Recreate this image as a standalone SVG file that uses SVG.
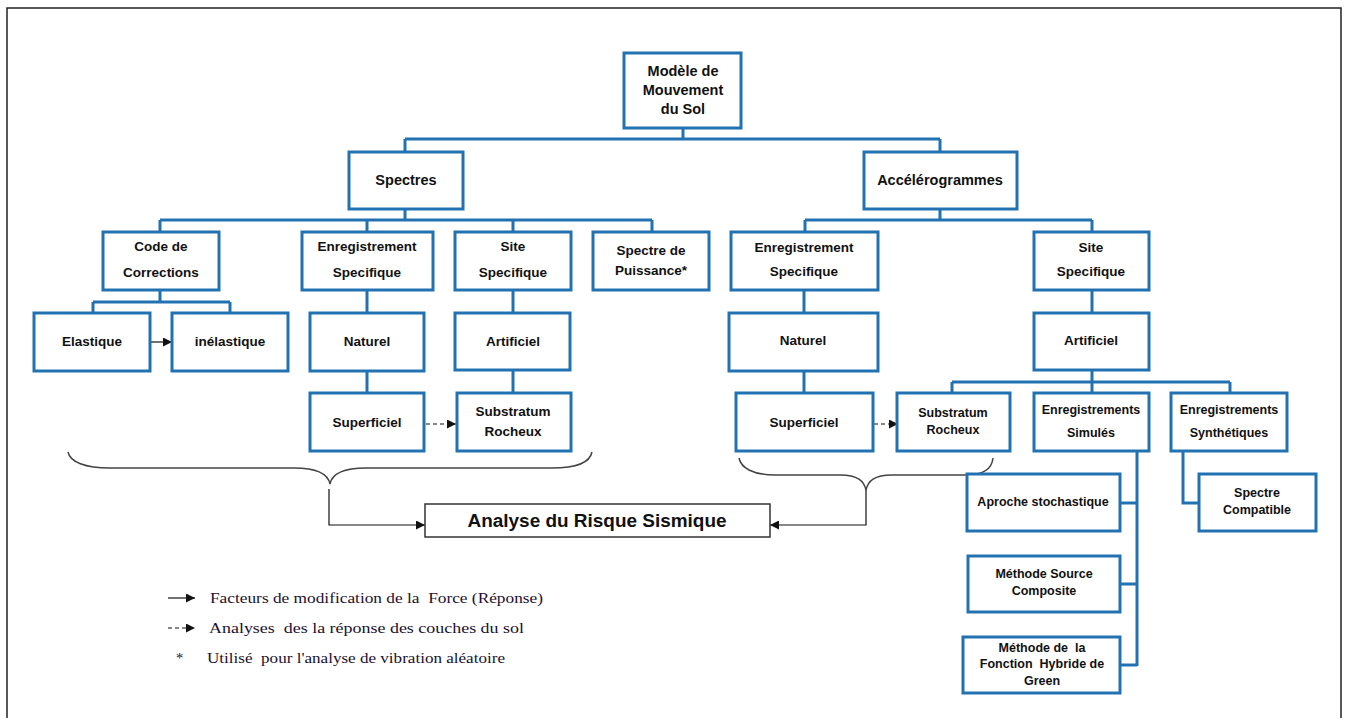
<svg xmlns="http://www.w3.org/2000/svg" width="1347" height="718" viewBox="0 0 1347 718">
<defs>
<style>
.box{fill:#fff;stroke:#2272B1;stroke-width:3}
.conn{fill:none;stroke:#2272B1;stroke-width:3}
.t{font-family:"Liberation Sans",Arial,sans-serif;font-weight:bold;font-size:13.5px;fill:#111;text-anchor:middle;white-space:pre}
.s12{font-size:12.5px}
.s14{font-size:14.5px}
.blk{fill:none;stroke:#111;stroke-width:1.2}
.brace{fill:none;stroke:#444;stroke-width:1.5}
.leg{font-family:"Liberation Serif","Times New Roman",serif;font-size:14.5px;fill:#1a1030;white-space:pre}
</style>
<marker id="ah" viewBox="0 0 10 10" refX="10" refY="5" markerWidth="9" markerHeight="9" markerUnits="userSpaceOnUse" orient="auto">
<path d="M0,0 L10,5 L0,10 z" fill="#111"/>
</marker>
</defs>
<rect width="1347" height="718" fill="#fff"/>
<path d="M7,718 V8 H1341 V718" fill="none" stroke="#222" stroke-width="1.5"/>

<g id="connectors">
<path class="conn" d="M683,128 V139 M405,139 H940 M405,139 V152 M940,139 V152"/>
<path class="conn" d="M405,209 V220 M160,220 H652 M160,220 V232 M367,220 V232 M513,220 V232 M652,220 V232"/>
<path class="conn" d="M940,209 V220 M805,220 H1092 M805,220 V232 M1092,220 V232"/>
<path class="conn" d="M160,290 V302 M93,302 H230 M93,302 V313 M230,302 V313"/>
<path class="conn" d="M367,290 V313 M367,371 V393 M513,290 V313 M513,370 V393"/>
<path class="conn" d="M804,290 V313 M804,371 V393"/>
<path class="conn" d="M1092,290 V313 M1092,370 V382 M952,382 H1230 M952,382 V393 M1092,382 V393 M1230,382 V393"/>
<path class="conn" d="M1137,451 V666 M1120,503 H1137 M1120,584 H1137 M1120,665 H1137"/>
<path class="conn" d="M1183,451 V503 H1199"/>
<line class="blk" x1="148" y1="342" x2="172" y2="342" marker-end="url(#ah)"/>
<line class="blk" x1="426" y1="424" x2="456" y2="424" stroke-dasharray="4,3" marker-end="url(#ah)"/>
<line class="blk" x1="874" y1="424" x2="898" y2="424" stroke-dasharray="4,3" marker-end="url(#ah)"/>
<path class="brace" d="M68,452 C70,462 85,468 110,468 H294 C318,468 328,474 330,484 C332,474 342,468 366,468 H552 C578,468 590,462 592,452"/>
<path class="brace" d="M739,458 C741,468 753,475 775,475 H840 C858,475 864,481 866,490 C868,481 874,475 892,475 H966 C985,475 992,468 993,458"/>
<path class="blk" d="M329,489 V525 H425" marker-end="url(#ah)"/>
<path class="blk" d="M866,490 V525 H770" marker-end="url(#ah)"/>
</g>

<g id="n-modele"><rect class="box" x="624" y="53" width="117" height="75"/><text class="t s14" x="683" y="76">Modèle de</text><text class="t s14" x="683" y="95">Mouvement</text><text class="t s14" x="683" y="114">du Sol</text></g>
<g id="n-spectres"><rect class="box" x="349" y="152" width="114" height="57"/><text class="t s14" x="406" y="185">Spectres</text></g>
<g id="n-accel"><rect class="box" x="864" y="152" width="153" height="57"/><text class="t s14" x="940" y="185">Accélérogrammes</text></g>

<g id="n-code"><rect class="box" x="103" y="232" width="116" height="58"/><text class="t" x="161" y="251">Code de</text><text class="t" x="161" y="277">Corrections</text></g>
<g id="n-enr-l"><rect class="box" x="302" y="232" width="131" height="58"/><text class="t" x="367" y="251">Enregistrement</text><text class="t" x="367" y="277">Specifique</text></g>
<g id="n-site-l"><rect class="box" x="455" y="232" width="116" height="58"/><text class="t" x="513" y="251">Site</text><text class="t" x="513" y="277">Specifique</text></g>
<g id="n-puiss"><rect class="box" x="593" y="232" width="116" height="58"/><text class="t" x="651" y="255">Spectre de</text><text class="t" x="651" y="275">Puissance*</text></g>
<g id="n-enr-r"><rect class="box" x="731" y="232" width="147" height="58"/><text class="t" x="804" y="252">Enregistrement</text><text class="t" x="804" y="276">Specifique</text></g>
<g id="n-site-r"><rect class="box" x="1034" y="232" width="115" height="58"/><text class="t" x="1091" y="252">Site</text><text class="t" x="1091" y="276">Specifique</text></g>

<g id="n-elast"><rect class="box" x="34" y="313" width="116" height="58"/><text class="t" x="92" y="346">Elastique</text></g>
<g id="n-inelast"><rect class="box" x="172" y="313" width="116" height="58"/><text class="t" x="230" y="346">inélastique</text></g>
<g id="n-nat-l"><rect class="box" x="310" y="313" width="114" height="58"/><text class="t" x="367" y="346">Naturel</text></g>
<g id="n-art-l"><rect class="box" x="455" y="313" width="115" height="57"/><text class="t" x="513" y="346">Artificiel</text></g>
<g id="n-nat-r"><rect class="box" x="729" y="313" width="149" height="58"/><text class="t" x="803" y="345">Naturel</text></g>
<g id="n-art-r"><rect class="box" x="1034" y="313" width="115" height="57"/><text class="t" x="1091" y="345">Artificiel</text></g>

<g id="n-sup-l"><rect class="box" x="310" y="393" width="114" height="58"/><text class="t" x="367" y="427">Superficiel</text></g>
<g id="n-sub-l"><rect class="box" x="457" y="393" width="114" height="58"/><text class="t" x="513" y="416">Substratum</text><text class="t" x="513" y="436">Rocheux</text></g>
<g id="n-sup-r"><rect class="box" x="736" y="393" width="137" height="58"/><text class="t" x="804" y="427">Superficiel</text></g>
<g id="n-sub-r"><rect class="box" x="897" y="393" width="113" height="58"/><text class="t s12" x="953" y="417">Substratum</text><text class="t s12" x="953" y="434">Rocheux</text></g>
<g id="n-simul"><rect class="box" x="1034" y="393" width="115" height="58"/><text class="t s12" x="1091" y="414">Enregistrements</text><text class="t s12" x="1091" y="437">Simulés</text></g>
<g id="n-synth"><rect class="box" x="1171" y="393" width="116" height="58"/><text class="t s12" x="1229" y="414">Enregistrements</text><text class="t s12" x="1229" y="437">Synthétiques</text></g>

<g id="n-aproche"><rect class="box" x="967" y="474" width="153" height="57"/><text class="t s12" x="1043" y="506">Aproche stochastique</text></g>
<g id="n-msc"><rect class="box" x="968" y="556" width="152" height="56"/><text class="t s12" x="1044" y="578">Méthode Source</text><text class="t s12" x="1044" y="595">Composite</text></g>
<g id="n-mfhg"><rect class="box" x="963" y="637" width="157" height="56"/><text class="t s12" x="1042" y="652">Méthode de  la</text><text class="t s12" x="1042" y="668">Fonction  Hybride de</text><text class="t s12" x="1042" y="685">Green</text></g>
<g id="n-spc"><rect class="box" x="1199" y="474" width="117" height="57"/><text class="t s12" x="1257" y="497">Spectre</text><text class="t s12" x="1257" y="514">Compatible</text></g>

<g id="n-analyse"><rect x="425" y="504" width="345" height="33" fill="#fff" stroke="#333" stroke-width="1.5"/><text class="t" style="font-size:18px" x="597" y="527" textLength="259" lengthAdjust="spacingAndGlyphs">Analyse du Risque Sismique</text></g>

<g id="legend">
<line class="blk" x1="168" y1="598" x2="195" y2="598" marker-end="url(#ah)"/>
<text class="leg" x="210" y="603" textLength="333" lengthAdjust="spacingAndGlyphs">Facteurs de modification de la  Force (Réponse)</text>
<line class="blk" x1="168" y1="628" x2="195" y2="628" stroke-dasharray="4,3" marker-end="url(#ah)"/>
<text class="leg" x="209" y="633" textLength="315" lengthAdjust="spacingAndGlyphs">Analyses  des la réponse des couches du sol</text>
<text class="leg" x="176" y="663">*</text>
<text class="leg" x="207" y="663" textLength="298" lengthAdjust="spacingAndGlyphs">Utilisé  pour l'analyse de vibration aléatoire</text>
</g>
</svg>
